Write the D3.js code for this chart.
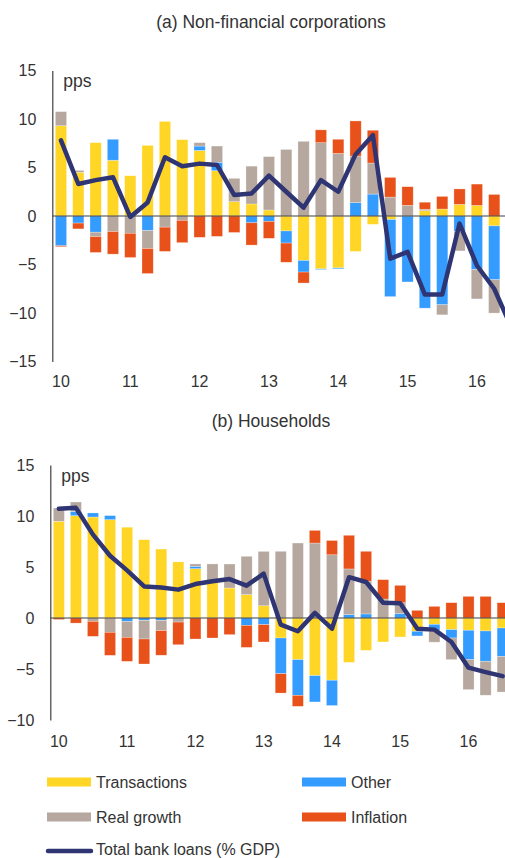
<!DOCTYPE html>
<html>
<head>
<meta charset="utf-8">
<script src="https://cdn.jsdelivr.net/npm/d3@7"></script>
<style>
  body { margin: 0; background: #fff; }
  svg { display: block; font-family: "Liberation Sans", Arial, sans-serif; }
</style>
</head>
<body>
<svg id="chart" width="505" height="858"></svg>
<script>
// quarters 2010 Q1 .. 2016 Q3
const quarters = [];
for (let y = 2010; y <= 2016; y++) for (let q = 1; q <= 4; q++) quarters.push(y + " Q" + q);
quarters.splice(27);

const keys = ["Transactions", "Other", "Real growth", "Inflation"];
const colors = ["#FFD626", "#349CFF", "#B6A89F", "#E8521A"];
const lineColor = "#2E3572";

// (a) Non-financial corporations (bars up to 2016 Q2, line to 2016 Q3)
const nfcTransactions = [9.3, 4.5, 7.56, 5.75, 4.15, 7.28, 9.75, 7.87, 6.76, 4.67, 1.48, 1.24, 0.62, -1.54, -4.58, -5.45, -5.35, -3.65, -0.86, -0.36, 0, 0.55, 0.72, 1.2, 1.09, -1.02];
const nfcOther        = [-3.07, -0.73, -1.67, 2.16, 0, -1.5, 0, 0, 0.45, 0.87, 0, -0.7, -0.55, -1.25, -1.2, -0.07, -0.1, 1.38, 2.26, -7.95, -6.8, -9.5, -9.15, -1.6, -5.5, -5.55];
const nfcRealGrowth   = [1.46, 0.2, -0.45, -1.6, -1.78, -1.85, -1.15, -0.45, 0.35, 1.67, 2.4, 3.9, 5.5, 6.86, 7.7, 7.56, 6.45, 4.8, 3.2, 1.95, 1.1, 0.15, -1.04, -2.0, -3.05, -3.44];
const nfcInflation    = [-0.1, -0.6, -1.64, -2.33, -2.5, -2.58, -2.5, -2.3, -2.2, -2.1, -1.7, -2.3, -1.75, -1.98, -1.13, 1.32, 1.46, 3.62, 3.38, 2.03, 1.92, 0.72, 1.3, 1.59, 2.2, 2.22];
const nfcTotal        = [7.8, 3.3, 3.7, 4.0, -0.1, 1.4, 6.06, 5.12, 5.4, 5.26, 2.16, 2.33, 4.16, 2.5, 0.86, 3.7, 2.5, 6.35, 8.33, -4.4, -3.7, -8.1, -8.1, -0.78, -5.1, -7.5, -11.5];

// (b) Households
const hhTransactions = [9.48, 10.03, 9.9, 9.64, 8.9, 7.68, 6.76, 5.5, 4.84, 3.6, 2.94, 2.29, 1.2, -1.96, -4.08, -5.65, -6.1, -4.35, -3.17, -2.35, -1.86, -1.3, -0.62, -1.14, -1.2, -1.27, -0.98];
const hhOther        = [0, 0.42, 0.4, 0.4, -0.33, -0.23, -0.23, 0, 0.23, 0, 0, -0.72, -0.65, -3.5, -3.5, -2.58, -2.48, 0.33, 0.4, 0, 0.42, -0.46, -0.6, -0.82, -2.88, -2.97, -2.78];
const hhRealGrowth   = [1.3, 0.92, -0.33, -1.4, -1.57, -1.83, -1.0, -0.4, 0.23, 1.7, 2.35, 3.76, 5.33, 6.54, 7.35, 7.35, 6.2, 4.48, 3.2, 1.86, 1.08, 0, -1.15, -2.12, -2.94, -3.33, -3.5];
const hhInflation    = [-0.15, -0.5, -1.47, -2.26, -2.35, -2.45, -2.42, -2.22, -2.06, -1.96, -1.63, -2.16, -1.7, -1.9, -1.08, 1.24, 1.4, 3.3, 2.94, 1.9, 1.7, 0.75, 1.14, 1.5, 2.12, 2.12, 1.5];
const hhTotal        = [10.7, 10.8, 8.17, 6.1, 4.67, 3.1, 3.0, 2.78, 3.33, 3.6, 3.82, 3.17, 4.35, -0.65, -1.3, 0.5, -1.05, 4.0, 3.53, 1.5, 1.45, -1.05, -1.14, -2.35, -4.87, -5.3, -5.7];

const yTicksA = [15, 10, 5, 0, -5, -10, -15];
const yTicksB = [15, 10, 5, 0, -5, -10];

const svg = d3.select("#chart");
const textColor = "#333";

function drawPanel(cfg) {
  const g = svg.append("g");
  const rows = cfg.series[0].map((_, i) => {
    const r = { q: quarters[i] };
    keys.forEach((k, j) => r[k] = cfg.series[j][i]);
    return r;
  });

  const x = d3.scaleBand().domain(quarters)
    .range([cfg.x0, cfg.x0 + quarters.length * cfg.step])
    .paddingInner(0.35).paddingOuter(0.175);
  const y = d3.scaleLinear().domain(cfg.yDomain).range(cfg.yRange);

  const stacked = d3.stack().keys(keys).offset(d3.stackOffsetDiverging)(rows);

  g.selectAll("g.layer").data(stacked).join("g")
    .attr("class", "layer")
    .attr("fill", (d, i) => colors[i])
    .selectAll("rect").data(d => d).join("rect")
    .attr("x", d => x(d.data.q))
    .attr("width", x.bandwidth())
    .attr("y", d => y(Math.max(d[0], d[1])))
    .attr("height", d => Math.abs(y(d[0]) - y(d[1])))
    .attr("stroke", "#fff").attr("stroke-opacity", 0.45).attr("stroke-width", 0.6);

  // zero line
  g.append("line")
    .attr("x1", cfg.x0).attr("x2", 505)
    .attr("y1", y(0)).attr("y2", y(0))
    .attr("stroke", "#404040").attr("stroke-width", 1.2);

  // y axis
  const yAxis = g.append("g")
    .attr("transform", `translate(${cfg.x0},0)`)
    .call(d3.axisLeft(y).tickValues(cfg.yTicks).tickSize(0).tickPadding(16));
  yAxis.select(".domain").attr("stroke", "#404040").attr("stroke-width", 1.2);
  yAxis.selectAll("text").attr("font-size", 16).attr("fill", textColor)
    .attr("font-family", "Liberation Sans, Arial, sans-serif");

  // x axis labels at Q1
  const xAxis = g.append("g")
    .attr("transform", `translate(0,${cfg.xLabelY})`)
    .call(d3.axisBottom(x).tickValues(quarters.filter(q => q.endsWith("Q1")))
      .tickFormat(q => q.slice(2, 4)).tickSize(0).tickPadding(0));
  xAxis.select(".domain").remove();
  xAxis.selectAll("text").attr("font-size", 16).attr("fill", textColor)
    .attr("font-family", "Liberation Sans, Arial, sans-serif");

  // total line
  const line = d3.line()
    .x((d, i) => x(quarters[i]) + x.bandwidth() / 2)
    .y(d => y(d));
  g.append("path").datum(cfg.total)
    .attr("d", line)
    .attr("fill", "none")
    .attr("stroke", lineColor)
    .attr("stroke-width", 4.5)
    .attr("stroke-linejoin", "round")
    .attr("stroke-linecap", "round");

  g.append("text").attr("x", cfg.x0 + 11).attr("y", cfg.ppsY)
    .attr("font-size", 17.5).attr("fill", textColor).text("pps");

  g.append("text").attr("x", 271).attr("y", cfg.titleY)
    .attr("text-anchor", "middle").attr("font-size", 17.5).attr("fill", textColor)
    .text(cfg.title);
}

drawPanel({
  title: "(a) Non-financial corporations", titleY: 28,
  series: [nfcTransactions, nfcOther, nfcRealGrowth, nfcInflation],
  total: nfcTotal,
  x0: 52.3, step: 17.33,
  yDomain: [-15, 15], yRange: [361.5, 70.5], yTicks: yTicksA,
  xLabelY: 376, ppsY: 87
});

drawPanel({
  title: "(b) Households", titleY: 427,
  series: [hhTransactions, hhOther, hhRealGrowth, hhInflation],
  total: hhTotal,
  x0: 50.3, step: 17.07,
  yDomain: [-10, 15], yRange: [720, 465], yTicks: yTicksB,
  xLabelY: 736, ppsY: 482
});

// legend
const legendItems = [
  { label: "Transactions", color: colors[0], x: 47, y: 782 },
  { label: "Other", color: colors[1], x: 302, y: 782 },
  { label: "Real growth", color: colors[2], x: 47, y: 817 },
  { label: "Inflation", color: colors[3], x: 302, y: 817 }
];
const legend = svg.append("g");
legendItems.forEach(d => {
  legend.append("rect").attr("x", d.x).attr("y", d.y - 4.5)
    .attr("width", 44).attr("height", 9).attr("fill", d.color);
  legend.append("text").attr("x", d.x + 49).attr("y", d.y + 5.5)
    .attr("font-size", 16).attr("fill", textColor).text(d.label);
});
legend.append("line").attr("x1", 48).attr("x2", 91).attr("y1", 851).attr("y2", 851)
  .attr("stroke", lineColor).attr("stroke-width", 4.5).attr("stroke-linecap", "round");
legend.append("text").attr("x", 96).attr("y", 855)
  .attr("font-size", 16).attr("fill", textColor).text("Total bank loans (% GDP)");
</script>
</body>
</html>
